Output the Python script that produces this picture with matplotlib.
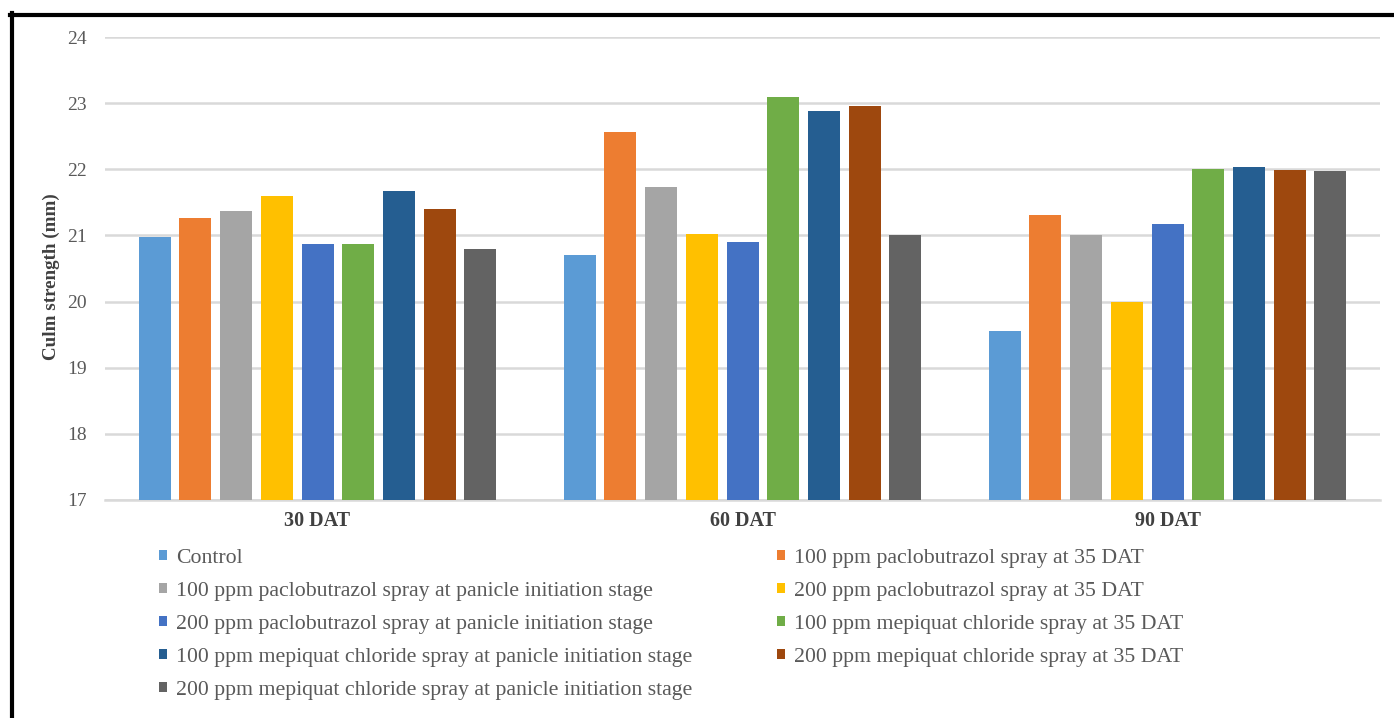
import matplotlib
matplotlib.use("Agg")
import matplotlib.pyplot as plt
import numpy as np
from matplotlib.lines import Line2D

plt.rcParams['font.family'] = ['Liberation Serif', 'DejaVu Serif']

categories = ["30 DAT", "60 DAT", "90 DAT"]
series_names = [
    "Control",
    "100 ppm paclobutrazol spray at 35 DAT",
    "100 ppm paclobutrazol spray at panicle initiation stage",
    "200 ppm paclobutrazol spray at 35 DAT",
    "200 ppm paclobutrazol spray at panicle initiation stage",
    "100 ppm mepiquat chloride spray at 35 DAT",
    "100 ppm mepiquat chloride spray at panicle initiation stage",
    "200 ppm mepiquat chloride spray at 35 DAT",
    "200 ppm mepiquat chloride spray at panicle initiation stage",
]
values = [
    [20.98, 20.70, 19.55],
    [21.26, 22.56, 21.31],
    [21.37, 21.73, 21.00],
    [21.59, 21.02, 20.00],
    [20.87, 20.90, 21.18],
    [20.87, 23.09, 22.00],
    [21.67, 22.88, 22.03],
    [21.40, 22.95, 21.99],
    [20.80, 21.00, 21.97],
]
colors = ["#5B9BD5", "#ED7D31", "#A5A5A5", "#FFC000", "#4472C4",
          "#70AD47", "#255E91", "#9E480E", "#636363"]
y_ticks = [17, 18, 19, 20, 21, 22, 23, 24]

W, H = 1394, 718
fig = plt.figure(figsize=(W / 100, H / 100), dpi=100)
ax = fig.add_axes([105 / W, (H - 500) / H, (1380 - 105) / W, (500 - 37) / H])

n = len(series_names)
slot = 40.7 / 425.0
bw = 32.0 / 425.0
x = np.arange(len(categories))
bars = []
for i in range(n):
    off = (i - (n - 1) / 2) * slot
    b = ax.bar(x + off, values[i], bw, bottom=0, color=colors[i],
               label=series_names[i], zorder=3)
    bars.append(b)

ax.set_ylim(17, 24)
ax.set_xlim(-0.5, 2.5)
ax.set_yticks(y_ticks)
ax.set_yticklabels([str(t) for t in y_ticks])
ax.set_xticks(x)
ax.set_xticklabels(categories, fontweight='bold')
ax.tick_params(axis='y', length=0, pad=13, labelsize=14, labelcolor='#595959')
ax.tick_params(axis='x', length=0, pad=8, labelsize=14.5, labelcolor='#404040')
ax.grid(axis='y', color='#d9d9d9', linewidth=1.8, zorder=0)
for s in ['top', 'right', 'left']:
    ax.spines[s].set_visible(False)
ax.spines['bottom'].set_color('#d9d9d9')
ax.spines['bottom'].set_linewidth(1.8)
ax.set_ylabel("Culm strength (mm)", fontweight='bold', fontsize=13.7, color='#404040')
ax.yaxis.set_label_coords(-45 / (1380 - 105), (500 - 277) / 463)

handles = [b.patches[0] for b in bars]
left_idx = [0, 2, 4, 6, 8]
right_idx = [1, 3, 5, 7]
common = dict(frameon=False, fontsize=15.7, handlelength=0.37, handleheight=0.37,
              handletextpad=0.4, labelspacing=0.64, borderaxespad=0, borderpad=0,
              labelcolor='#595959', loc='upper left')
leg1 = fig.legend([handles[i] for i in left_idx], [series_names[i] for i in left_idx],
                  bbox_to_anchor=(159 / W, 1 - 549 / H), **common)
leg2 = fig.legend([handles[i] for i in right_idx], [series_names[i] for i in right_idx],
                  bbox_to_anchor=(777 / W, 1 - 549 / H), **common)

# black frame (top and left)
fig.add_artist(Line2D([10 / W, 1], [1 - 14.5 / H, 1 - 14.5 / H], color='black',
                      linewidth=3, transform=fig.transFigure))
fig.add_artist(Line2D([11.7 / W, 11.7 / W], [0, 1 - 12.5 / H], color='black',
                      linewidth=3, transform=fig.transFigure))

fig.savefig("out.png", dpi=100)
